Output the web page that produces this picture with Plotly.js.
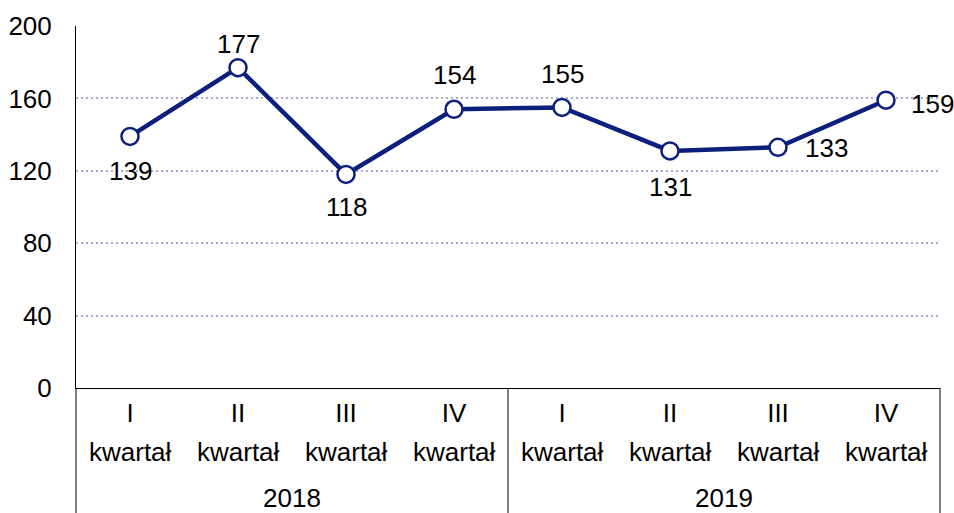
<!DOCTYPE html>
<html><head><meta charset="utf-8">
<script src="https://cdn.plot.ly/plotly-3.0.1.min.js"></script>
<style>html,body{margin:0;padding:0;background:#fff}</style>
</head><body>
<div id="chart" style="width:954px;height:513px"></div>
<script>
const quarters = ["I", "II", "III", "IV", "I", "II", "III", "IV"];
const quarterWord = "kwartał";
const years = ["2018", "2019"];
const values = [139, 177, 118, 154, 155, 131, 133, 159];

// label placement (style only): pixel offsets of each value label from its point
const labelDX = [0, 0, 0, 0, 0, 0, 48, 46];
const labelDY = [-35, 24, -33, 34, 33, -36, -1, -4];

const xs = values.map((_, i) => i);
const FONT = "Liberation Sans, Arial, sans-serif";
const FS = 26;
const navy = "#0c1f7c";

const trace = {
  x: xs, y: values, type: "scatter", mode: "lines+markers",
  line: {color: navy, width: 4.5},
  marker: {size: 17, color: "#ffffff", line: {color: navy, width: 2.5}},
  cliponaxis: false, hoverinfo: "skip"
};

const n = quarters.length;
const txt = (s, x, y, xref, yref) => ({
  text: s, x: x, y: y, xref: xref, yref: yref, showarrow: false,
  xanchor: "center", yanchor: "middle",
  font: {family: FONT, size: FS, color: "#000"}
});
const shapes = [0, 0.5, 1].map(px => ({
  type: "line", xref: "paper", yref: "paper", x0: px, x1: px, y0: 0, y1: -0.4,
  line: {color: "#000", width: 1}
}));
const annotations = []
  .concat(years.map((yr, k) => txt(yr, 0.25 + 0.5 * k, -0.305, "paper", "paper")))
  .concat(xs.map(x => txt(quarterWord, x, -0.177, "x", "paper")))
  .concat(values.map((v, i) => Object.assign(txt(String(v), xs[i], v, "x", "y"),
    {xshift: labelDX[i], yshift: labelDY[i]})));

const layout = {
  width: 954, height: 513,
  margin: {l: 76, r: 14, t: 26, b: 125},
  paper_bgcolor: "#fff", plot_bgcolor: "#fff",
  showlegend: false,
  font: {family: FONT, size: FS, color: "#000"},
  xaxis: {
    range: [-0.5, n - 0.5], tickvals: xs, ticktext: quarters,
    showgrid: false, zeroline: false, showline: true, linecolor: "#000", linewidth: 1,
    ticks: "", ticklabelstandoff: 2,
    tickfont: {family: FONT, size: FS, color: "#000"}, fixedrange: true
  },
  yaxis: {
    range: [0, 200], dtick: 40, tick0: 0,
    showgrid: true, gridcolor: "#a9a9d3", griddash: "2px,3px", gridwidth: 2,
    zeroline: false, showline: true, linecolor: "#000", linewidth: 1,
    ticks: "", ticklabelstandoff: 18,
    tickfont: {family: FONT, size: FS, color: "#000"}, fixedrange: true
  },
  shapes: shapes, annotations: annotations
};

Plotly.newPlot("chart", [trace], layout, {displayModeBar: false, staticPlot: true});
</script>
</body></html>
